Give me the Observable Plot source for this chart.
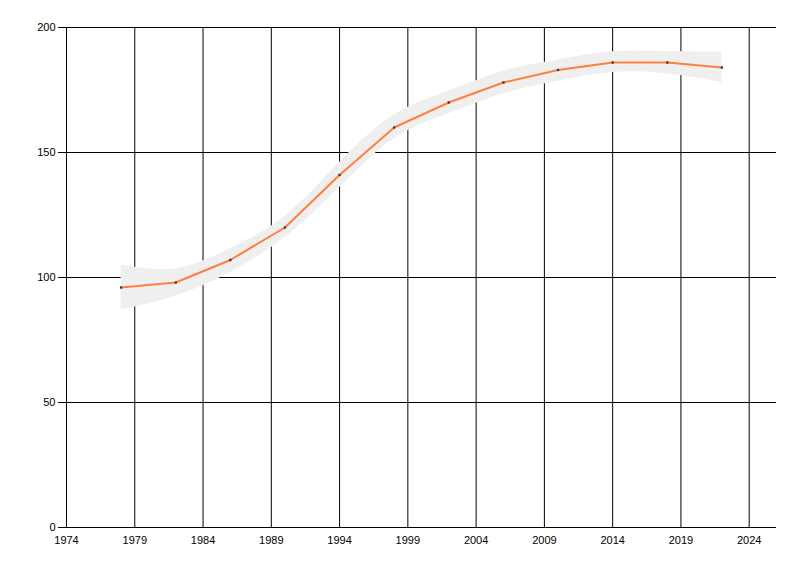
<!DOCTYPE html>
<html>
<head>
<meta charset="utf-8">
<script src="https://cdn.jsdelivr.net/npm/d3@7"></script>
<script src="https://cdn.jsdelivr.net/npm/@observablehq/plot@0.6"></script>
<style>
  body { margin: 0; background: #fff; }
  #chart svg { display: block; }
</style>
</head>
<body>
<div id="chart"></div>
<script>
// values
const years  = [1978, 1982, 1986, 1990, 1994, 1998, 2002, 2006, 2010, 2014, 2018, 2022];
const values = [96, 98, 107, 120, 141, 160, 170, 178, 183, 186, 186, 184];
const lower  = [87, 92.5, 102, 116, 136, 155.5, 165.5, 173.5, 178.5, 182, 181.5, 178];
const upper  = [105, 103.5, 111.5, 124.5, 146, 165, 174.5, 182.5, 187, 190.3, 190.4, 190.2];

const xTicks = [1974, 1979, 1984, 1989, 1994, 1999, 2004, 2009, 2014, 2019, 2024];
const yTicks = [0, 50, 100, 150, 200];

const data = years.map((year, i) => ({
  year,
  value: values[i],
  lo: lower[i],
  hi: upper[i]
}));

const chart = Plot.plot({
  width: 800,
  height: 576,
  marginLeft: 66,
  marginRight: 24,
  marginTop: 27,
  marginBottom: 49,
  style: {
    fontFamily: "'Liberation Sans', Arial, sans-serif",
    fontSize: "11px",
    color: "#000",
    background: "#fff"
  },
  x: { domain: [1974, 2026] },
  y: { domain: [0, 200] },
  marks: [
    Plot.gridX(xTicks, { stroke: "#000", strokeOpacity: 1 }),
    Plot.gridY(yTicks, { stroke: "#000", strokeOpacity: 1 }),
    Plot.areaY(data, {
      x: "year",
      y1: "lo",
      y2: "hi",
      fill: "#efefef",
      curve: "natural"
    }),
    Plot.line(data, {
      x: "year",
      y: "value",
      stroke: "#ff7f3f",
      strokeWidth: 2
    }),
    Plot.dot(data, {
      x: "year",
      y: "value",
      symbol: "square",
      r: 1.3,
      fill: "#3a3a3a"
    }),
    Plot.ruleY([0], { stroke: "#000" }),
    Plot.ruleX([1974], { stroke: "#000" }),
    Plot.axisX(xTicks, {
      tickSize: 0,
      tickPadding: 9,
      tickFormat: d => String(d),
      label: null
    }),
    Plot.axisY(yTicks, {
      tickSize: 8,
      tickPadding: 3,
      label: null
    })
  ]
});

document.getElementById("chart").appendChild(chart);
</script>
</body>
</html>
